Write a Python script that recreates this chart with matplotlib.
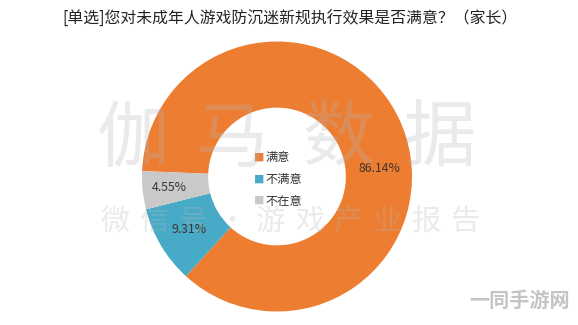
import matplotlib
matplotlib.use("Agg")
import matplotlib.pyplot as plt
import numpy as np

plt.rcParams['font.family'] = ['Noto Sans CJK SC', 'DejaVu Sans']

# data
labels = ['满意', '不满意', '不在意']
values = [86.14, 9.31, 4.55]
colors = ['#ED7D31', '#47AAC6', '#C9C9C9']
title = '[单选]您对未成年人游戏防沉迷新规执行效果是否满意？（家长）'

W, H = 578, 325
fig = plt.figure(figsize=(W / 100, H / 100), dpi=100)
fig.patch.set_facecolor('white')

# donut axes: center (277, 176.5) px, outer radius 135 px
cx, cy, R = 277, 176.5, 135
ax = fig.add_axes([(cx - R) / W, (H - cy - R) / H, 2 * R / W, 2 * R / H])
wedges, _ = ax.pie(values, colors=colors, startangle=177.7, counterclock=False,
                   radius=1, wedgeprops=dict(width=0.49, edgecolor='none'))
ax.set_xlim(-1, 1)
ax.set_ylim(-1, 1)
ax.axis('off')

# percentage labels (orange label sits near the right side, not at mid-angle)
label_angles = [4.7, None, None]
label_r = [0.765, 0.76, 0.80]
for w, v, a, r in zip(wedges, values, label_angles, label_r):
    ang = a if a is not None else (w.theta1 + w.theta2) / 2
    x, y = r * np.cos(np.radians(ang)), r * np.sin(np.radians(ang))
    ax.text(x, y, f'{v:.2f}%', ha='center', va='center', fontsize=8.8,
            color='#3d3530')

# legend inside the hole
for i, (lab, col) in enumerate(zip(labels, colors)):
    yy = 1 - (158 + i * 21.5) / H
    fig.text(254 / W, yy, '■', color=col, fontsize=7.5, va='center', ha='left')
    fig.text(265 / W, yy, lab, color='#333333', fontsize=8.8, va='center', ha='left')

# title
fig.text(290 / W, 1 - 19 / H, title, ha='center', va='center', fontsize=11.4,
         fontweight='medium', color='#222222')

# watermarks
for ch, x in zip('伽马数据', [133, 232, 338, 440]):
    fig.text(x / W, 1 - 140 / H, ch, ha='center', va='center', fontsize=52,
             color='#b5b5b5', alpha=0.28, zorder=10)
for ch, x in zip('微信号·游戏产业报告', np.linspace(115, 465, 10)):
    fig.text(x / W, 1 - 222 / H, ch, ha='center', va='center', fontsize=21,
             color='#b5b5b5', alpha=0.28, zorder=10)
fig.text(520 / W, 1 - 300 / H, '一同手游网', ha='center', va='center', fontsize=14.5,
         fontweight='bold', color='#c4c4c4', zorder=10)

fig.savefig('out.png', dpi=100)
